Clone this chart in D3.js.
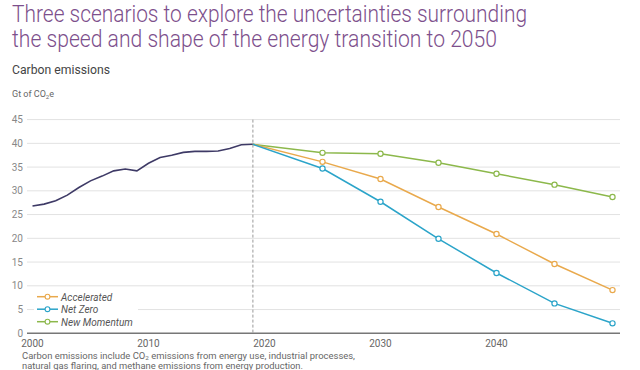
<!DOCTYPE html>
<html>
<head>
<meta charset="utf-8">
<script src="https://cdn.jsdelivr.net/npm/d3@7"></script>
<style>
  body { margin: 0; background: #fff; }
  text { font-family: Roboto, "Liberation Sans", sans-serif; }
</style>
</head>
<body>
<div id="chart"></div>
<script>
/* history 2000-2019 */
var histYears = d3.range(2000, 2020);
var histValues = [26.8, 27.2, 27.9, 29.1, 30.7, 32.1, 33.1, 34.2, 34.6, 34.2,
                  35.8, 37.0, 37.5, 38.1, 38.3, 38.3, 38.4, 38.9, 39.7, 39.8];

/* scenarios */
var scenYears = [2019, 2025, 2030, 2035, 2040, 2045, 2050];
var accelerated = [39.8, 36.1, 32.5, 26.6, 20.9, 14.6, 9.1];
var netZero = [39.8, 34.7, 27.7, 19.9, 12.7, 6.3, 2.1];
var newMomentum = [39.8, 38.0, 37.8, 35.9, 33.6, 31.3, 28.7];

var seriesNames = ["Accelerated", "Net Zero", "New Momentum"];
var seriesColors = ["#e9a94c", "#2ba4c9", "#8cb84b"];

var yTicks = [0, 5, 10, 15, 20, 25, 30, 35, 40, 45];
var xTicks = [2000, 2010, 2020, 2030, 2040];

var width = 640, height = 370;

var svg = d3.select("#chart").append("svg")
    .attr("width", width)
    .attr("height", height);

/* titles */
svg.append("text").attr("x", 12).attr("y", 22)
    .attr("font-size", 23).attr("font-weight", 300).attr("fill", "#7d4f8c")
    .attr("textLength", 515).attr("lengthAdjust", "spacingAndGlyphs")
    .text("Three scenarios to explore the uncertainties surrounding");
svg.append("text").attr("x", 12).attr("y", 47)
    .attr("font-size", 23).attr("font-weight", 300).attr("fill", "#7d4f8c")
    .attr("textLength", 485).attr("lengthAdjust", "spacingAndGlyphs")
    .text("the speed and shape of the energy transition to 2050");

svg.append("text").attr("x", 12).attr("y", 74)
    .attr("font-size", 12.5).attr("fill", "#444")
    .attr("textLength", 98).attr("lengthAdjust", "spacingAndGlyphs")
    .text("Carbon emissions");

var unit = svg.append("text").attr("x", 12).attr("y", 97)
    .attr("font-size", 9).attr("fill", "#666");
unit.append("tspan").text("Gt of CO");
unit.append("tspan").attr("font-size", 6).attr("dy", 2).text("2");
unit.append("tspan").attr("dy", -2).text("e");

/* scales */
var x = d3.scaleLinear().domain([2000, 2050]).range([32.5, 612.5]);
var y = d3.scaleLinear().domain([0, 45]).range([333.3, 119.6]);

/* grid */
svg.append("g").selectAll("line").data(yTicks.filter(function (d) { return d > 0; }))
    .enter().append("line")
    .attr("x1", 27).attr("x2", 620)
    .attr("y1", function (d) { return y(d); })
    .attr("y2", function (d) { return y(d); })
    .attr("stroke", "#e2e2e2").attr("stroke-width", 1);

/* y labels */
svg.append("g").selectAll("text").data(yTicks)
    .enter().append("text")
    .attr("x", 23).attr("y", function (d) { return y(d) + 3.5; })
    .attr("text-anchor", "end").attr("font-size", 10).attr("fill", "#888")
    .text(function (d) { return d; });

/* x axis */
svg.append("line").attr("x1", 27).attr("x2", 620)
    .attr("y1", y(0)).attr("y2", y(0))
    .attr("stroke", "#777").attr("stroke-width", 1.5);

svg.append("g").selectAll("text").data(xTicks)
    .enter().append("text")
    .attr("x", function (d) { return x(d); }).attr("y", 347)
    .attr("text-anchor", "middle").attr("font-size", 10).attr("fill", "#666")
    .text(function (d) { return d; });

/* 2019 divider */
svg.append("line").attr("x1", x(2019)).attr("x2", x(2019))
    .attr("y1", y(45)).attr("y2", y(0))
    .attr("stroke", "#999").attr("stroke-width", 1).attr("stroke-dasharray", "3,2");

var line = d3.line()
    .x(function (d) { return x(d[0]); })
    .y(function (d) { return y(d[1]); });

/* history */
svg.append("path")
    .datum(d3.zip(histYears, histValues))
    .attr("d", line).attr("fill", "none")
    .attr("stroke", "#3e3a66").attr("stroke-width", 1.6);

/* scenarios */
var scenValues = [accelerated, netZero, newMomentum];
[2, 0, 1].forEach(function (i) {
    var pts = d3.zip(scenYears, scenValues[i]);
    var g = svg.append("g");
    g.append("path").datum(pts).attr("d", line).attr("fill", "none")
        .attr("stroke", seriesColors[i]).attr("stroke-width", 1.5);
    g.selectAll("circle").data(pts.slice(1)).enter().append("circle")
        .attr("cx", function (d) { return x(d[0]); })
        .attr("cy", function (d) { return y(d[1]); })
        .attr("r", 2.6).attr("fill", "#fff")
        .attr("stroke", seriesColors[i]).attr("stroke-width", 1.2);
});

/* legend */
svg.append("rect").attr("x", 34).attr("y", 288).attr("width", 104).attr("height", 40)
    .attr("fill", "#fff");
var leg = svg.append("g").selectAll("g").data(seriesNames).enter().append("g")
    .attr("transform", function (d, i) { return "translate(37," + (296.7 + i * 12.5) + ")"; });
leg.append("line").attr("x1", 0).attr("x2", 21)
    .attr("stroke", function (d, i) { return seriesColors[i]; }).attr("stroke-width", 1.5);
leg.append("circle").attr("cx", 10.5).attr("r", 2.4).attr("fill", "#fff")
    .attr("stroke", function (d, i) { return seriesColors[i]; }).attr("stroke-width", 1.1);
leg.append("text").attr("x", 24).attr("y", 3.8)
    .attr("font-size", 10).attr("font-style", "italic").attr("fill", "#555")
    .text(function (d) { return d; });

/* footnote */
var f1 = svg.append("text").attr("x", 22).attr("y", 358.5)
    .attr("font-size", 9).attr("fill", "#666")
    .attr("textLength", 333).attr("lengthAdjust", "spacingAndGlyphs");
f1.append("tspan").text("Carbon emissions include CO");
f1.append("tspan").attr("font-size", 6).attr("dy", 1.5).text("2");
f1.append("tspan").attr("dy", -1.5).text(" emissions from energy use, industrial processes,");
svg.append("text").attr("x", 22).attr("y", 368.5)
    .attr("font-size", 9).attr("fill", "#666")
    .attr("textLength", 281).attr("lengthAdjust", "spacingAndGlyphs")
    .text("natural gas flaring, and methane emissions from energy production.");
</script>
</body>
</html>
